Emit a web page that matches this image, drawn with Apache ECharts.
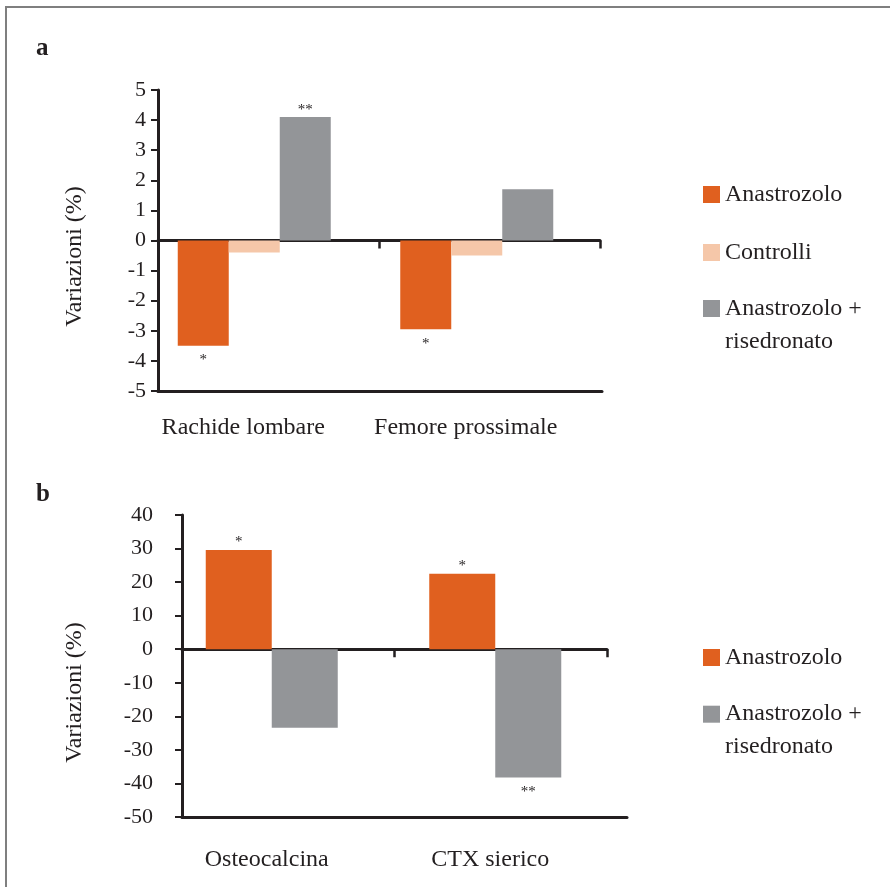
<!DOCTYPE html>
<html>
<head>
<meta charset="utf-8">
<script src="https://cdn.jsdelivr.net/npm/echarts@6/dist/echarts.min.js"></script>
<style>
body { margin: 0; background: #fff; }
#wrap { position: relative; width: 890px; height: 887px; }
#main { width: 890px; height: 887px; }
.frame { position: absolute; left: 5px; top: 6px; right: 0; bottom: 0;
  border-left: 2px solid #7f7f7f; border-top: 2px solid #7f7f7f; pointer-events: none; }
</style>
</head>
<body>
<div id="wrap">
  <div id="main"></div>
  <div class="frame"></div>
</div>
<script>
// pannello a - densita minerale ossea
var catsA = ['Rachide lombare', 'Femore prossimale'];
var anaA = [-3.5, -2.95];
var ctrlA = [-0.4, -0.5];
var risA = [4.1, 1.7];
var sigAnaA = ['*', '*'];
var sigCtrlA = ['', ''];
var sigRisA = ['**', ''];
var ticksA = [-5, -4, -3, -2, -1, 0, 1, 2, 3, 4, 5];

// pannello b - marcatori
var catsB = ['Osteocalcina', 'CTX sierico'];
var anaB = [29.6, 22.5];
var risB = [-23.4, -38.2];
var sigAnaB = ['*', '*'];
var sigRisB = ['', '**'];
var ticksB = [-50, -40, -30, -20, -10, 0, 10, 20, 30, 40];

var FONT = '"Liberation Serif", "Times New Roman", serif';
var INK = '#231f20';
var ORANGE = '#e0601f';
var PEACH = '#f5c7a9';
var GREY = '#939598';

var grids = [], xAxes = [], yAxes = [], series = [];

function range(t) {
  return { min: t[0], max: t[t.length - 1], interval: t[1] - t[0] };
}

function panel(p) {
  var g = grids.length;
  var r = range(p.ticks);
  // griglia delle barre
  grids.push({ left: p.barsLeft, top: p.top, width: p.barsWidth, height: p.height });
  // griglia degli assi visibili
  grids.push({ left: p.axisLeft, top: p.top, width: p.axisWidth, height: p.height });
  // linea di base
  grids.push({ left: p.axisLeft, top: p.top, width: p.baseWidth, height: p.height });

  xAxes.push({
    gridIndex: g, type: 'category', data: p.cats,
    axisLine: { show: false, onZero: false }, axisTick: { show: false },
    axisLabel: { interval: 0, margin: p.catMargin, fontSize: 24, fontFamily: FONT, color: INK, padding: [0, p.catShift, 0, 0] }
  });
  yAxes.push({ gridIndex: g, type: 'value', min: r.min, max: r.max, interval: r.interval, show: false });

  xAxes.push({
    gridIndex: g + 1, type: 'category', data: ['', ''], boundaryGap: true,
    axisLine: { onZero: true, lineStyle: { color: INK, width: 3 } },
    axisTick: { show: true, length: 8, lineStyle: { color: INK, width: 2.5 } },
    axisLabel: { show: false }
  });
  yAxes.push({
    gridIndex: g + 1, type: 'value', min: r.min, max: r.max, interval: r.interval,
    axisLine: { show: true, lineStyle: { color: INK, width: 3 } },
    axisTick: { show: true, length: 7, lineStyle: { color: INK, width: 2 } },
    axisLabel: { margin: p.tickMargin, fontSize: 22, fontFamily: FONT, color: INK },
    splitLine: { show: false },
    name: 'Variazioni (%)', nameLocation: 'middle', nameGap: p.nameGap,
    nameTextStyle: { fontSize: 24, fontFamily: FONT, color: INK, padding: [0, p.namePad, 0, 0] }
  });

  xAxes.push({
    gridIndex: g + 2, type: 'category', data: ['', ''],
    axisLine: { onZero: false, lineStyle: { color: INK, width: 3 } },
    axisTick: { show: false }, axisLabel: { show: false }
  });
  yAxes.push({ gridIndex: g + 2, type: 'value', min: r.min, max: r.max, show: false });

  p.series.forEach(function (s) {
    series.push({
      type: 'bar', name: s.name, xAxisIndex: g, yAxisIndex: g,
      // gli asterischi sotto le barre negative stanno un po' piu' staccati
      data: s.data.map(function (v) {
        return { value: v, label: { distance: v < 0 ? 7 : 0 } };
      }),
      barWidth: p.barWidth, barGap: '0%',
      itemStyle: { color: s.color },
      label: {
        show: true, position: 'outside',
        fontSize: 15, fontFamily: FONT, color: INK,
        formatter: function (q) { return s.sig[q.dataIndex]; }
      }
    });
  });
}

panel({
  top: 90, height: 301, ticks: ticksA, cats: catsA,
  barsLeft: 143, barsWidth: 445, axisLeft: 158, axisWidth: 442, baseWidth: 444,
  barWidth: 51, tickMargin: 12, catMargin: 25, catShift: 22, nameGap: 71, namePad: 32,
  series: [
    { name: 'Anastrozolo', data: anaA, sig: sigAnaA, color: ORANGE },
    { name: 'Controlli', data: ctrlA, sig: sigCtrlA, color: PEACH },
    { name: 'Anastrozolo + risedronato', data: risA, sig: sigRisA, color: GREY }
  ]
});

panel({
  top: 515, height: 302, ticks: ticksB, cats: catsB,
  barsLeft: 160, barsWidth: 447, axisLeft: 182, axisWidth: 425, baseWidth: 445,
  barWidth: 66, tickMargin: 29, catMargin: 31, catShift: 10, nameGap: 95, namePad: 53,
  series: [
    { name: 'Anastrozolo', data: anaB, sig: sigAnaB, color: ORANGE },
    { name: 'Anastrozolo + risedronato', data: risB, sig: sigRisB, color: GREY }
  ]
});

function legend(name, top, twoLines) {
  return {
    data: [name], left: 703, top: top, orient: 'vertical', padding: 0,
    icon: 'rect', itemWidth: 17, itemHeight: 17, selectedMode: false,
    textStyle: { fontSize: 24, lineHeight: twoLines ? 33 : 24, fontFamily: FONT, color: INK },
    // riga vuota in testa: cosi' la prima riga resta allineata al quadratino
    formatter: function (n) { return twoLines ? '\n' + n.replace(' + ', ' +\n') : n; }
  };
}

var chart = echarts.init(document.getElementById('main'));
chart.setOption({
  animation: false,
  backgroundColor: '#fff',
  title: [
    { text: 'a', left: 36, top: 36, padding: 0, textStyle: { fontFamily: FONT, fontWeight: 'bold', fontSize: 25, color: INK } },
    { text: 'b', left: 36, top: 482, padding: 0, textStyle: { fontFamily: FONT, fontWeight: 'bold', fontSize: 25, color: INK } }
  ],
  legend: [
    legend('Anastrozolo', 182.5, false),
    legend('Controlli', 240.5, false),
    legend('Anastrozolo + risedronato', 259, true),
    legend('Anastrozolo', 645.5, false),
    legend('Anastrozolo + risedronato', 664.7, true)
  ],
  grid: grids,
  xAxis: xAxes,
  yAxis: yAxes,
  series: series
});
</script>
</body>
</html>
